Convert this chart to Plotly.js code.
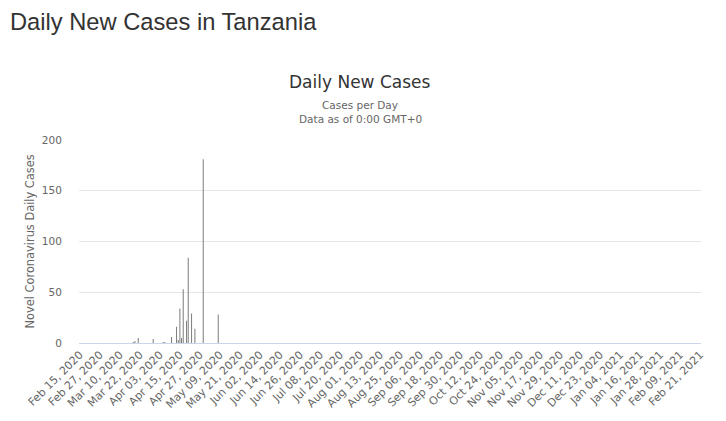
<!DOCTYPE html>
<html>
<head>
<meta charset="utf-8">
<script src="https://cdn.plot.ly/plotly-3.0.1.min.js"></script>
<style>
  html, body { margin: 0; padding: 0; background: #fff; }
  #chart { width: 726px; height: 421px; }
</style>
</head>
<body>
<div id="chart"></div>
<script>
// Days with reported new cases (all other days are 0)
const caseDates = ['2020-03-18', '2020-03-19', '2020-03-21', '2020-03-30', '2020-04-05', '2020-04-06',
  '2020-04-10', '2020-04-13', '2020-04-14', '2020-04-15', '2020-04-16', '2020-04-17',
  '2020-04-19', '2020-04-20', '2020-04-22', '2020-04-24', '2020-04-29', '2020-05-08'];
const caseValues = [1, 2, 5, 4, 1, 1, 6, 16, 3, 34, 5, 53, 22, 84, 29, 14, 181, 28];

const tickDates = ['2020-02-15', '2020-02-27', '2020-03-10', '2020-03-22', '2020-04-03', '2020-04-15',
  '2020-04-27', '2020-05-09', '2020-05-21', '2020-06-02', '2020-06-14', '2020-06-26', '2020-07-08',
  '2020-07-20', '2020-08-01', '2020-08-13', '2020-08-25', '2020-09-06', '2020-09-18', '2020-09-30',
  '2020-10-12', '2020-10-24', '2020-11-05', '2020-11-17', '2020-11-29', '2020-12-11', '2020-12-23',
  '2021-01-04', '2021-01-16', '2021-01-28', '2021-02-09', '2021-02-21'];
const tickLabels = ['Feb 15, 2020', 'Feb 27, 2020', 'Mar 10, 2020', 'Mar 22, 2020', 'Apr 03, 2020',
  'Apr 15, 2020', 'Apr 27, 2020', 'May 09, 2020', 'May 21, 2020', 'Jun 02, 2020', 'Jun 14, 2020',
  'Jun 26, 2020', 'Jul 08, 2020', 'Jul 20, 2020', 'Aug 01, 2020', 'Aug 13, 2020', 'Aug 25, 2020',
  'Sep 06, 2020', 'Sep 18, 2020', 'Sep 30, 2020', 'Oct 12, 2020', 'Oct 24, 2020', 'Nov 05, 2020',
  'Nov 17, 2020', 'Nov 29, 2020', 'Dec 11, 2020', 'Dec 23, 2020', 'Jan 04, 2021', 'Jan 16, 2021',
  'Jan 28, 2021', 'Feb 09, 2021', 'Feb 21, 2021'];

const yTicks = [0, 50, 100, 150, 200];

const pageTitle = 'Daily New Cases in Tanzania';
const chartTitle = 'Daily New Cases';
const subtitle1 = 'Cases per Day';
const subtitle2 = 'Data as of 0:00 GMT+0';
const yTitle = 'Novel Coronavirus Daily Cases';

const DAY = 86400000;
const M = {l: 79, r: 25, t: 140, b: 78};
const W = 726, H = 421;
const plotW = W - M.l - M.r, plotH = H - M.t - M.b;
function py(p) { return (H - M.b - p) / plotH; }
function px(p) { return (p - M.l) / plotW; }

const font = 'DejaVu Sans, Verdana, sans-serif';

const trace = {
  type: 'bar',
  x: caseDates,
  y: caseValues,
  width: caseDates.map(() => 0.6 * DAY),
  marker: {color: '#7c7c7c', line: {width: 0}},
  hoverinfo: 'x+y'
};

const layout = {
  width: W, height: H,
  margin: M,
  paper_bgcolor: '#fff', plot_bgcolor: '#fff',
  showlegend: false,
  font: {family: font, color: '#666', size: 11},
  xaxis: {
    type: 'date',
    range: ['2020-02-14 12:00', '2021-02-21 12:00'],
    tickmode: 'array',
    tickvals: tickDates,
    ticktext: tickLabels,
    tickangle: -45,
    tickfont: {family: font, size: 11, color: '#666'},
    showgrid: false,
    zeroline: false,
    showline: true,
    linecolor: '#ccd6eb',
    linewidth: 1,
    ticks: '',
    automargin: false,
    fixedrange: true
  },
  yaxis: {
    range: [0, 200],
    tickmode: 'array',
    tickvals: yTicks,
    ticktext: yTicks.map(String),
    tickfont: {family: font, size: 10.5, color: '#666'},
    showgrid: true,
    gridcolor: '#e6e6e6',
    gridwidth: 1,
    zeroline: false,
    showline: false,
    ticks: 'outside',
    ticklen: 14,
    tickcolor: 'rgba(0,0,0,0)',
    automargin: false,
    fixedrange: true
  },
  annotations: [
    {text: pageTitle, xref: 'paper', yref: 'paper', x: px(8), y: py(22), xanchor: 'left', yanchor: 'middle',
     showarrow: false, font: {family: 'Liberation Sans, Arial, sans-serif', size: 23.7, color: '#333'}},
    {text: chartTitle, xref: 'paper', yref: 'paper', x: px(360), y: py(82), xanchor: 'center', yanchor: 'middle',
     showarrow: false, font: {family: font, size: 17, color: '#333'}},
    {text: subtitle1, xref: 'paper', yref: 'paper', x: px(360), y: py(105.5), xanchor: 'center', yanchor: 'middle',
     showarrow: false, font: {family: font, size: 10.5, color: '#666'}},
    {text: subtitle2, xref: 'paper', yref: 'paper', x: px(360), y: py(118.5), xanchor: 'center', yanchor: 'middle',
     showarrow: false, font: {family: font, size: 10.5, color: '#666'}},
    {text: yTitle, xref: 'paper', yref: 'paper', x: px(29), y: py(241.5), xanchor: 'center', yanchor: 'middle',
     textangle: -90, showarrow: false, font: {family: font, size: 11.4, color: '#666'}}
  ]
};

Plotly.newPlot('chart', [trace], layout, {displayModeBar: false, responsive: false, staticPlot: true});
</script>
</body>
</html>
